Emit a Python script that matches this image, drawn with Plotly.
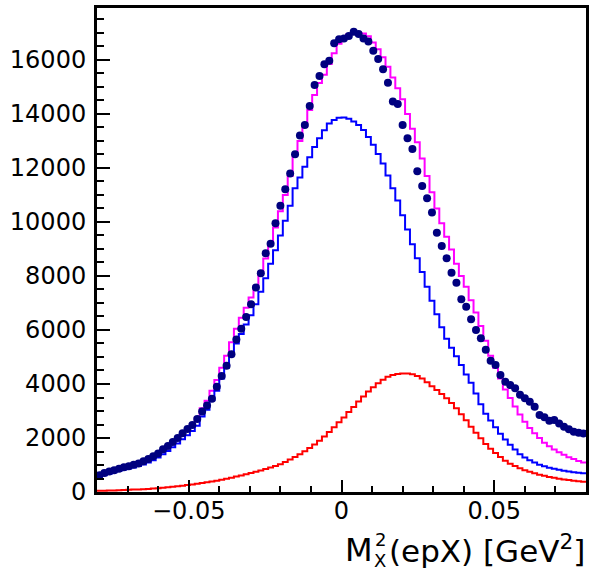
import numpy as np
import plotly.graph_objects as go

# Binning of the missing-mass-squared histograms
x_min, x_max, n_bins = -0.08, 0.08, 100

# Measured counts per bin
data_counts = [
    620, 700, 760, 810, 860, 920, 950, 1010, 1060, 1140,
    1220, 1320, 1430, 1580, 1700, 1850, 2000, 2180, 2330, 2480,
    2700, 2980, 3200, 3450, 3900, 4300, 4680, 5100, 5650, 6050,
    6480, 6950, 7570, 8100, 8840, 9190, 9950, 10600, 11210, 11800,
    12510, 13200, 13590, 14300, 15075, 15410, 15840, 15975, 16620, 16770,
    16800, 16890, 17050, 16960, 16800, 16680, 16345, 16040, 15660, 15160,
    14460, 14370, 13590, 13100, 12700, 11880, 11330, 10880, 10350, 9605,
    9110, 8655, 8120, 7750, 7140, 6865, 6400, 6000, 5690, 5270,
    4865, 4700, 4335, 4085, 3960, 3840, 3600, 3470, 3345, 3160,
    2850, 2765, 2640, 2665, 2540, 2420, 2320, 2235, 2195, 2170,
]

# Simulation: total and its two components
mc_total = [
    600, 670, 730, 790, 840, 900, 950, 1000, 1060, 1120,
    1200, 1300, 1420, 1550, 1690, 1850, 2000, 2170, 2350, 2530,
    2750, 3100, 3380, 3750, 4150, 4600, 5050, 5550, 6050, 6450,
    6820, 7200, 7620, 8150, 8650, 9200, 9800, 10400, 11000, 11700,
    12500, 13000, 13550, 14150, 14700, 15150, 15450, 15850, 16250, 16600,
    16850, 16950, 17000, 17000, 16980, 16880, 16650, 16400, 16100, 15750,
    15350, 14950, 14550, 14000, 13450, 12950, 12350, 11700, 11100, 10500,
    9950, 9450, 8980, 8450, 8000, 7600, 7100, 6650, 6150, 5600,
    5050, 4600, 4200, 3800, 3480, 3170, 2870, 2600, 2370, 2180,
    2000, 1820, 1690, 1570, 1470, 1380, 1290, 1220, 1150, 1090,
]

mc_exclusive = [
    560, 620, 680, 730, 780, 830, 870, 910, 960, 1020,
    1090, 1180, 1280, 1400, 1520, 1660, 1800, 1950, 2100, 2260,
    2450, 2800, 3050, 3400, 3750, 4200, 4600, 5080, 5500, 5850,
    6200, 6550, 6950, 7420, 7920, 8450, 8950, 9500, 10050, 10600,
    11250, 11650, 12050, 12400, 12780, 13100, 13400, 13650, 13780, 13860,
    13870, 13820, 13720, 13590, 13410, 13150, 12860, 12520, 12170, 11720,
    11250, 10800, 10250, 9720, 9180, 8660, 8150, 7600, 7080, 6580,
    6100, 5680, 5340, 5030, 4700, 4350, 4050, 3650, 3250, 2900,
    2650, 2400, 2160, 1940, 1750, 1570, 1400, 1280, 1180, 1090,
    1010, 950, 900, 860, 820, 790, 760, 730, 710, 690,
]

mc_background = [
    45, 50, 55, 60, 65, 72, 80, 88, 96, 105,
    115, 128, 142, 158, 175, 192, 210, 232, 255, 280,
    305, 330, 358, 388, 420, 455, 492, 530, 570, 612,
    656, 702, 752, 800, 850, 905, 965, 1030, 1110, 1200,
    1300, 1400, 1510, 1630, 1760, 1900, 2060, 2220, 2400, 2580,
    2760, 2960, 3150, 3350, 3540, 3720, 3880, 4030, 4160, 4270,
    4330, 4370, 4390, 4390, 4360, 4300, 4200, 4060, 3920, 3780,
    3630, 3470, 3300, 3100, 2880, 2660, 2420, 2190, 1990, 1780,
    1600, 1440, 1300, 1160, 1050, 960, 880, 810, 750, 690,
    640, 600, 560, 525, 495, 465, 440, 415, 395, 375,
]

x_tick_vals = [-0.05, 0.0, 0.05]
x_tick_text = ["\u22120.05", "0", "0.05"]

edges = np.linspace(x_min, x_max, n_bins + 1)
centers = 0.5 * (edges[:-1] + edges[1:])

FONT = "DejaVu Sans"


def step_trace(values, color):
    # outline histogram: one horizontal segment per bin
    y = list(values) + [values[-1]]
    return go.Scatter(
        x=edges, y=y, mode="lines", line=dict(color=color, width=2, shape="hv"),
        hoverinfo="skip", showlegend=False,
    )


fig = go.Figure()
fig.add_trace(step_trace(mc_total, "#ff00ff"))
fig.add_trace(step_trace(mc_exclusive, "#0000ff"))
fig.add_trace(step_trace(mc_background, "#ff0000"))
fig.add_trace(go.Scatter(
    x=centers, y=data_counts, mode="markers",
    marker=dict(color="#00007f", size=8, line=dict(width=0)),
    showlegend=False,
))

W, H = 592, 572
L, R, T, B = 97, 3, 8, 80
pw, ph = W - L - R, H - T - B


def px(xp):
    return (xp - L) / pw


def py(yp):
    return (H - B - yp) / ph


axis_common = dict(
    showline=True, linecolor="black", linewidth=3, mirror=True,
    showgrid=False, zeroline=False, ticks="inside", tickcolor="black",
    tickwidth=2, tickfont=dict(family=FONT, size=24, color="black"),
)

fig.update_layout(
    width=W, height=H,
    margin=dict(l=L, r=R, t=T, b=B),
    paper_bgcolor="white", plot_bgcolor="white",
    showlegend=False,
    xaxis=dict(
        range=[x_min, x_max], tickmode="array", tickvals=x_tick_vals,
        ticktext=x_tick_text, ticklen=12, ticklabelstandoff=-5,
        minor=dict(dtick=0.01, tick0=0, ticks="inside", ticklen=6,
                   tickwidth=2, tickcolor="black"),
        **axis_common,
    ),
    yaxis=dict(
        range=[0, 17925], tick0=0, dtick=2000, ticklen=13,
        tickformat="d", ticklabelstandoff=3,
        minor=dict(dtick=500, tick0=0, ticks="inside", ticklen=7,
                   tickwidth=2, tickcolor="black"),
        **axis_common,
    ),
)

# x-axis title with stacked super/subscript on M
title_annots = [
    dict(text="M", x=px(376), y=py(569.5), xanchor="right", yanchor="bottom",
         font=dict(family=FONT, size=32, color="black")),
    dict(text="2", x=px(376), y=py(551), xanchor="left", yanchor="bottom",
         font=dict(family=FONT, size=18, color="black")),
    dict(text="X", x=px(375), y=py(572), xanchor="left", yanchor="bottom",
         font=dict(family=FONT, size=18, color="black")),
    dict(text="(epX) [GeV<sup>2</sup>]", x=px(589), y=py(569.5),
         xanchor="right", yanchor="bottom",
         font=dict(family=FONT, size=31, color="black")),
]
for a in title_annots:
    fig.add_annotation(xref="paper", yref="paper", showarrow=False,
                       borderpad=0, **a)

fig.write_html("out.html")
